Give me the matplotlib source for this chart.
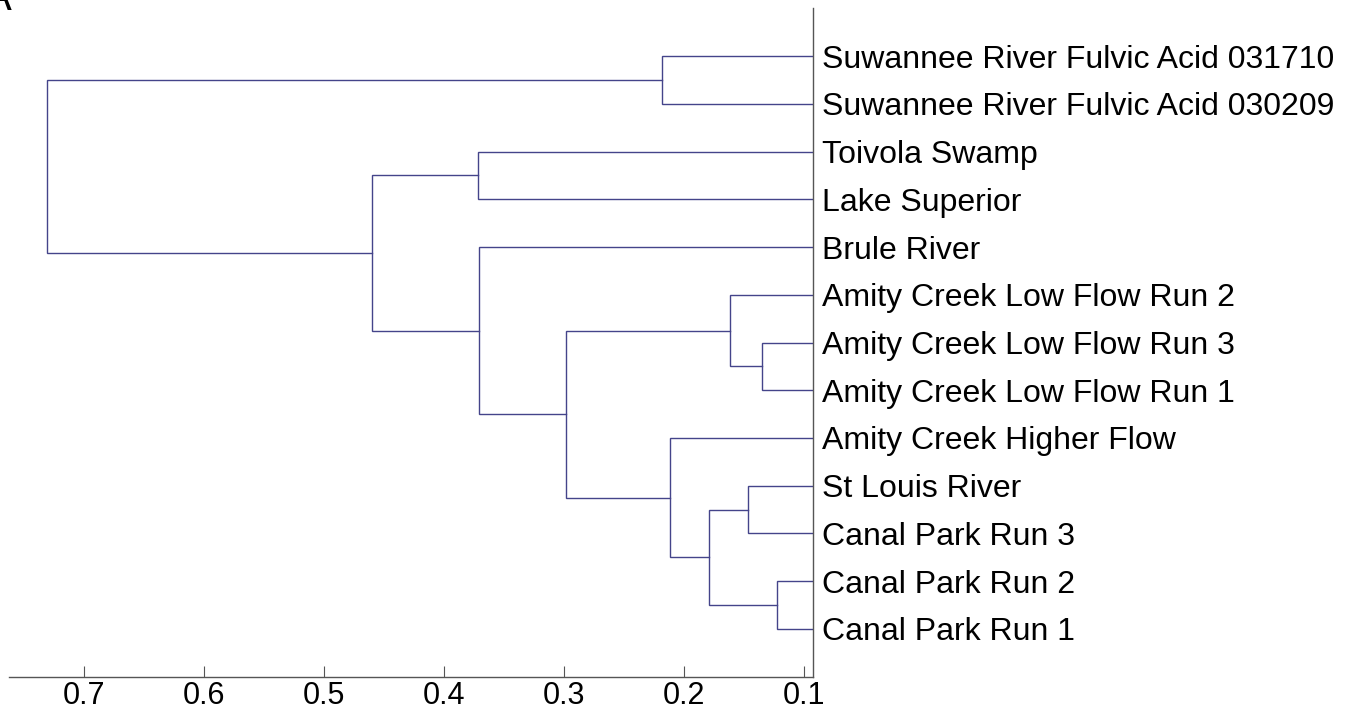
import matplotlib.pyplot as plt

# leaf labels, top to bottom
labels = [
    'Suwannee River Fulvic Acid 031710',
    'Suwannee River Fulvic Acid 030209',
    'Toivola Swamp',
    'Lake Superior',
    'Brule River',
    'Amity Creek Low Flow Run 2',
    'Amity Creek Low Flow Run 3',
    'Amity Creek Low Flow Run 1',
    'Amity Creek Higher Flow',
    'St Louis River',
    'Canal Park Run 3',
    'Canal Park Run 2',
    'Canal Park Run 1',
]

# merges: node a, node b, distance (new nodes numbered from 13 upward)
merge_a = [11, 6, 9, 5, 15, 8, 0, 16, 2, 4, 21, 19]
merge_b = [12, 7, 10, 14, 13, 17, 1, 18, 3, 20, 22, 23]
merge_h = [0.122, 0.1345, 0.1462, 0.1614, 0.1789, 0.2112, 0.2184,
           0.2984, 0.3713, 0.3707, 0.4596, 0.7311]

xticks = [0.7, 0.6, 0.5, 0.4, 0.3, 0.2, 0.1]

fig = plt.figure(figsize=(13.53, 7.15), dpi=100)
ax = fig.add_axes([9 / 1353, 38.3 / 715, 804.3 / 1353, 668.4 / 715])

line_color = '#44448a'
n = len(labels)
pos = {i: i + 1 for i in range(n)}   # y position of each node
height = {i: 0.0 for i in range(n)}  # distance of each node

for k, (a, b, h) in enumerate(zip(merge_a, merge_b, merge_h)):
    node = n + k
    ya, yb = pos[a], pos[b]
    ax.plot([height[a], h, h, height[b]], [ya, ya, yb, yb],
            color=line_color, lw=1.0, solid_joinstyle='miter')
    pos[node] = (ya + yb) / 2
    height[node] = h

ax.set_xlim(0.7625, 0.092)
ax.set_ylim(14, 0)

# axis look: only bottom and right lines
for side in ['top', 'left']:
    ax.spines[side].set_visible(False)
for side in ['bottom', 'right']:
    ax.spines[side].set_color('#555555')
    ax.spines[side].set_linewidth(1.0)

ax.set_xticks(xticks)
ax.set_xticklabels([f'{t:.1f}' for t in xticks])
ax.tick_params(axis='x', direction='in', length=8, width=0.8, color='#555555',
               labelsize=22, pad=3)
ax.xaxis.set_ticks_position('bottom')

ax.yaxis.tick_right()
ax.set_yticks(range(1, n + 1))
ax.set_yticklabels(labels)
ax.tick_params(axis='y', length=0, labelsize=23, pad=6)

for lab in ax.get_xticklabels() + ax.get_yticklabels():
    lab.set_fontfamily('Liberation Sans')

# panel letter, cut off at top edge like in the figure
fig.text(-0.012, 1.029, 'A', fontsize=30, fontfamily='Liberation Sans', va='top', ha='left')

plt.savefig('out.png', dpi=100)
plt.close()
